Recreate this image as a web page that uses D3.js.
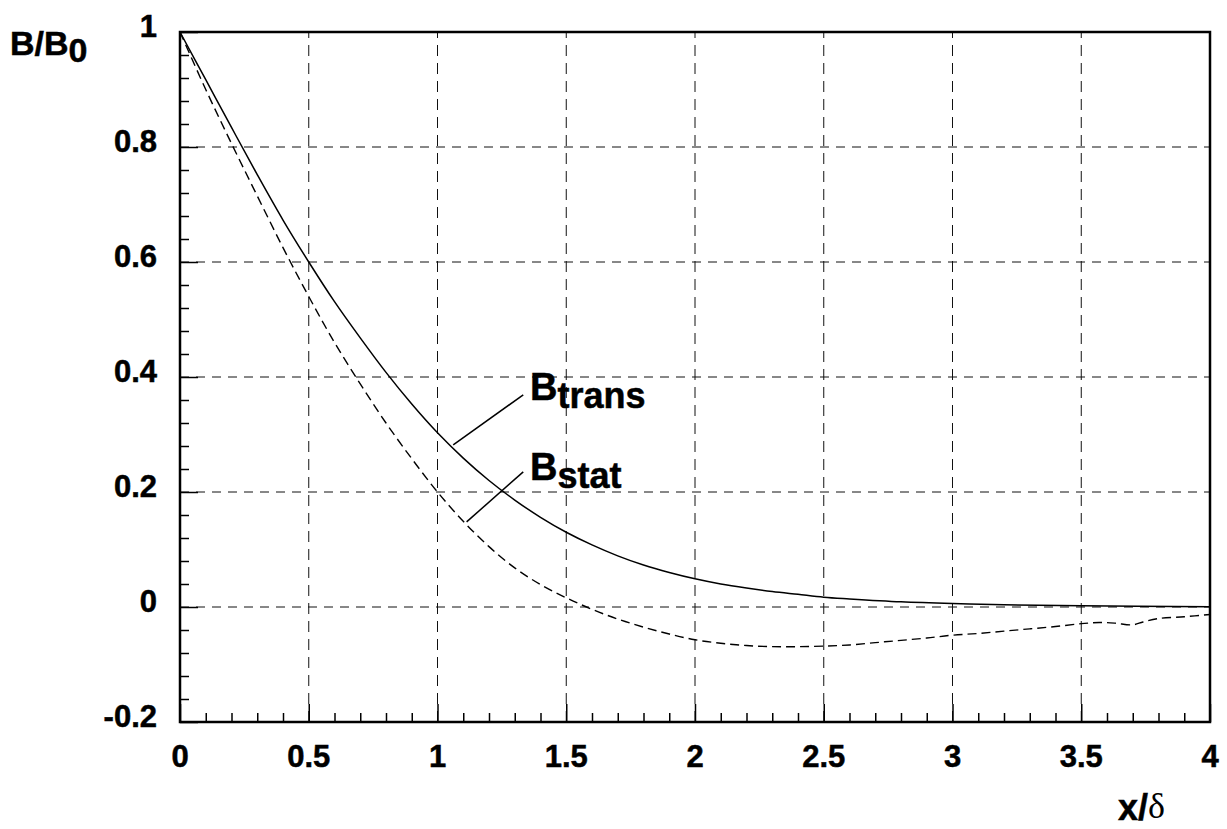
<!DOCTYPE html>
<html>
<head>
<meta charset="utf-8">
<script src="https://cdn.jsdelivr.net/npm/d3@7"></script>
<style>
  html, body { margin: 0; padding: 0; background: #fff; }
  svg { display: block; }
  .tick-label { font-family: "Liberation Sans", Arial, sans-serif; font-weight: bold; font-size: 31px; fill: #000; stroke: #000; stroke-width: 0.5px; }
</style>
</head>
<body>
<div id="chart"></div>
<script>
// ---- data ----
const transX = [0, 0.1, 0.2, 0.3, 0.4, 0.5, 0.6, 0.7, 0.8, 0.9, 1.0, 1.1, 1.2, 1.3, 1.4, 1.5, 1.6, 1.7, 1.8, 1.9, 2.0, 2.1, 2.2, 2.3, 2.4, 2.5, 2.6, 2.8, 3.0, 3.2, 3.5, 4.0];
const transY = [1.000, 0.917, 0.834, 0.752, 0.673, 0.600, 0.531, 0.468, 0.408, 0.353, 0.303, 0.259, 0.220, 0.186, 0.156, 0.130, 0.108, 0.089, 0.073, 0.060, 0.049, 0.040, 0.033, 0.027, 0.022, 0.017, 0.014, 0.009, 0.006, 0.004, 0.002, 0.0005];

const statX = [0, 0.1, 0.2, 0.3, 0.4, 0.5, 0.6, 0.7, 0.8, 0.9, 1.0, 1.1, 1.2, 1.3, 1.4, 1.5, 1.6, 1.7, 1.8, 1.9, 2.0, 2.1, 2.2, 2.3, 2.4, 2.5, 2.6, 2.7, 2.8, 2.9, 3.0, 3.1, 3.2, 3.3, 3.4, 3.5, 3.57, 3.63, 3.7, 3.74, 3.8, 3.9, 4.0];
const statY = [1.0, 0.9, 0.806, 0.715, 0.625, 0.54, 0.46, 0.388, 0.32, 0.258, 0.2, 0.149, 0.105, 0.068, 0.039, 0.016, -0.004, -0.021, -0.035, -0.047, -0.057, -0.063, -0.067, -0.069, -0.069, -0.068, -0.066, -0.062, -0.058, -0.054, -0.049, -0.046, -0.042, -0.038, -0.034, -0.029, -0.027, -0.028, -0.031, -0.026, -0.020, -0.017, -0.013];

const xTicks = [0, 0.5, 1, 1.5, 2, 2.5, 3, 3.5, 4];
const xTickLabels = ["0", "0.5", "1", "1.5", "2", "2.5", "3", "3.5", "4"];
const yTicks = [-0.2, 0, 0.2, 0.4, 0.6, 0.8, 1];
const yTickLabels = ["-0.2", "0", "0.2", "0.4", "0.6", "0.8", "1"];

// curve labels and leader lines, in data units
const labelNames = ["B", "B"];
const labelSubs = ["trans", "stat"];
const labelPos = [[1.359, 0.36], [1.359, 0.221]];
const leaderFrom = [[1.333, 0.369], [1.333, 0.235]];
const leaderTo = [[1.061, 0.282], [1.113, 0.148]];

const width = 1227, height = 829;
const margin = {left: 180, right: 17, top: 32, bottom: 107};

const svg = d3.select("#chart").append("svg")
  .attr("width", width)
  .attr("height", height);

const xScale = d3.scaleLinear().domain([0, 4]).range([margin.left, width - margin.right]);
const yScale = d3.scaleLinear().domain([-0.2, 1]).range([height - margin.bottom, margin.top]);

// grid
const grid = svg.append("g").attr("stroke", "#111").attr("stroke-width", 1);
grid.selectAll(".vg").data(xTicks.slice(1, -1)).enter().append("line")
  .attr("stroke-dasharray", "11,7")
  .attr("x1", d => xScale(d)).attr("x2", d => xScale(d))
  .attr("y1", yScale(-0.2)).attr("y2", yScale(1));
grid.selectAll(".hg").data(yTicks.slice(1, -1)).enter().append("line")
  .attr("stroke-dasharray", "9,7")
  .attr("x1", xScale(0)).attr("x2", xScale(4))
  .attr("y1", d => yScale(d)).attr("y2", d => yScale(d));

// minor ticks, inside the frame
const xMinor = d3.range(0, 41).map(i => i / 10).filter(v => Math.round(v * 10) % 5 !== 0);
const yMinor = d3.range(-5, 26).map(i => i * 0.04).filter(v => Math.round(v * 100) % 20 !== 0);

svg.append("g")
  .attr("transform", `translate(0, ${yScale(-0.2)})`)
  .call(d3.axisBottom(xScale).tickValues(xMinor).tickSize(-9).tickFormat(""))
  .call(g => g.select(".domain").remove())
  .selectAll("line").attr("stroke-width", 1.5);

svg.append("g")
  .attr("transform", `translate(${xScale(0)}, 0)`)
  .call(d3.axisLeft(yScale).tickValues(yMinor).tickSize(-9).tickFormat(""))
  .call(g => g.select(".domain").remove())
  .selectAll("line").attr("stroke-width", 1.5);

// major ticks
svg.append("g")
  .attr("transform", `translate(0, ${yScale(-0.2)})`)
  .call(d3.axisBottom(xScale).tickValues(xTicks).tickSize(-18).tickFormat(""))
  .call(g => g.select(".domain").remove())
  .selectAll("line").attr("stroke-width", 1.5);

svg.append("g")
  .attr("transform", `translate(${xScale(0)}, 0)`)
  .call(d3.axisLeft(yScale).tickValues(yTicks).tickSize(-18).tickFormat(""))
  .call(g => g.select(".domain").remove())
  .selectAll("line").attr("stroke-width", 1.5);

// frame
svg.append("rect")
  .attr("x", xScale(0)).attr("y", yScale(1))
  .attr("width", xScale(4) - xScale(0))
  .attr("height", yScale(-0.2) - yScale(1))
  .attr("fill", "none").attr("stroke", "#000").attr("stroke-width", 2.5);

// tick labels
svg.append("g").selectAll("text").data(xTicks).enter().append("text")
  .attr("class", "tick-label")
  .attr("x", d => xScale(d)).attr("y", yScale(-0.2) + 45)
  .attr("text-anchor", "middle")
  .text((d, i) => xTickLabels[i]);

svg.append("g").selectAll("text").data(yTicks).enter().append("text")
  .attr("class", "tick-label")
  .attr("x", xScale(0) - 23).attr("y", d => yScale(d) + 5)
  .attr("text-anchor", "end")
  .text((d, i) => yTickLabels[i]);

// curves
const line = d3.line()
  .x(d => xScale(d[0]))
  .y(d => yScale(d[1]))
  .curve(d3.curveCatmullRom);

svg.append("path")
  .datum(transX.map((x, i) => [x, transY[i]]))
  .attr("d", line)
  .attr("fill", "none").attr("stroke", "#000").attr("stroke-width", 1.5);

svg.append("path")
  .datum(statX.map((x, i) => [x, statY[i]]))
  .attr("d", line)
  .attr("fill", "none").attr("stroke", "#000").attr("stroke-width", 1.4)
  .attr("stroke-dasharray", "9,5");

// curve labels with leader lines
labelNames.forEach((name, i) => {
  svg.append("line")
    .attr("x1", xScale(leaderFrom[i][0])).attr("y1", yScale(leaderFrom[i][1]))
    .attr("x2", xScale(leaderTo[i][0])).attr("y2", yScale(leaderTo[i][1]))
    .attr("stroke", "#000").attr("stroke-width", 1.5);
  const t = svg.append("text")
    .attr("x", xScale(labelPos[i][0])).attr("y", yScale(labelPos[i][1]))
    .attr("font-family", "'Liberation Sans', Arial, sans-serif")
    .attr("font-weight", "bold").attr("font-size", 38)
    .attr("stroke", "#000").attr("stroke-width", 0.5);
  t.append("tspan").text(name);
  t.append("tspan").attr("dy", 8).attr("font-size", 36).text(labelSubs[i]);
});

// axis titles
const yt = svg.append("text")
  .attr("x", 10).attr("y", 55)
  .attr("font-family", "'Liberation Sans', Arial, sans-serif")
  .attr("font-weight", "bold").attr("font-size", 34)
  .attr("stroke", "#000").attr("stroke-width", 0.5);
yt.append("tspan").text("B/B");
yt.append("tspan").attr("dy", 7).text("0");

const xt = svg.append("text")
  .attr("x", 1118).attr("y", 820)
  .attr("font-family", "'Liberation Sans', Arial, sans-serif")
  .attr("font-weight", "bold").attr("font-size", 36);
xt.append("tspan").text("x/").attr("stroke", "#000").attr("stroke-width", 0.5);
xt.append("tspan").attr("font-family", "'Liberation Serif', 'Times New Roman', serif")
  .attr("font-weight", "normal").attr("dy", -2).text("δ");
</script>
</body>
</html>
